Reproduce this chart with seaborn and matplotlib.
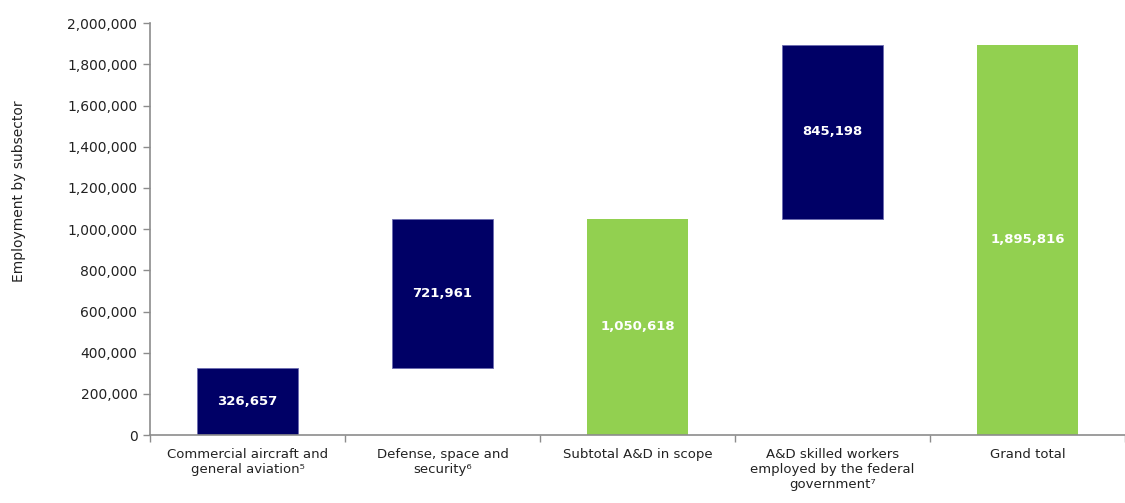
import numpy as np
import pandas as pd
import matplotlib
matplotlib.use("Agg")
import matplotlib.pyplot as plt
import seaborn as sns

# data
categories = [
    "Commercial aircraft and\ngeneral aviation\u2075",
    "Defense, space and\nsecurity\u2076",
    "Subtotal A&D in scope",
    "A&D skilled workers\nemployed by the federal\ngovernment\u2077",
    "Grand total",
]
step_values = [326657, 721961, 845198]
step_bases = [0, 326657, 1050618]
step_cats = [categories[0], categories[1], categories[3]]
total_values = [1050618, 1895816]
total_cats = [categories[2], categories[4]]

navy = "#000066"
green = "#92d050"
axis_grey = "#8c8c8c"

sns.set_style("white")
plt.rcParams["font.family"] = ["DejaVu Sans"]

fig = plt.figure(figsize=(11.25, 5.03), dpi=100)
ax = fig.add_axes([0.1333, 0.135, 0.8667, 0.819])

steps = pd.DataFrame({"cat": step_cats, "value": step_values, "base": step_bases})
totals = pd.DataFrame({"cat": total_cats, "value": total_values})

sns.barplot(data=steps, x="cat", y="value", order=categories, color=navy,
            saturation=1, width=0.52, errorbar=None, bottom=steps["base"].to_numpy(),
            edgecolor="#6b6bb0", linewidth=0.6, ax=ax)
sns.barplot(data=totals, x="cat", y="value", order=categories, color=green,
            saturation=1, width=0.52, errorbar=None, linewidth=0, ax=ax)

# value labels in the middle of each bar
for c, v, b in zip(step_cats, step_values, step_bases):
    ax.text(categories.index(c), b + v / 2, f"{v:,}", ha="center", va="center",
            color="white", fontsize=9.5, fontweight="bold")
for c, v in zip(total_cats, total_values):
    ax.text(categories.index(c), v / 2, f"{v:,}", ha="center", va="center",
            color="white", fontsize=9.5, fontweight="bold")

ax.set_xlim(-0.5, 4.5)
ax.set_ylim(0, 2000000)
ax.set_yticks(np.arange(0, 2000001, 200000))
ax.yaxis.set_major_formatter(matplotlib.ticker.FuncFormatter(lambda v, p: f"{int(v):,}"))
ax.set_xticks(np.arange(-0.5, 5, 1), minor=True)
ax.tick_params(axis="x", which="major", length=0, pad=9, labelsize=9.5, labelcolor="#222222")
ax.tick_params(axis="x", which="minor", length=5, color=axis_grey, width=1, direction="out")
ax.tick_params(axis="y", length=5, color=axis_grey, width=1, direction="out",
               labelsize=10, pad=4, labelcolor="#222222")
ax.xaxis.set_tick_params(which="minor", bottom=True)
ax.yaxis.set_tick_params(left=True)

ax.set_xlabel("")
ax.set_ylabel("Employment by subsector", fontsize=10, color="#222222")
ax.yaxis.set_label_coords(-0.127, 0.592)

for side in ["top", "right"]:
    ax.spines[side].set_visible(False)
for side in ["left", "bottom"]:
    ax.spines[side].set_color(axis_grey)
    ax.spines[side].set_linewidth(1.2)

fig.savefig("out.png", dpi=100)
